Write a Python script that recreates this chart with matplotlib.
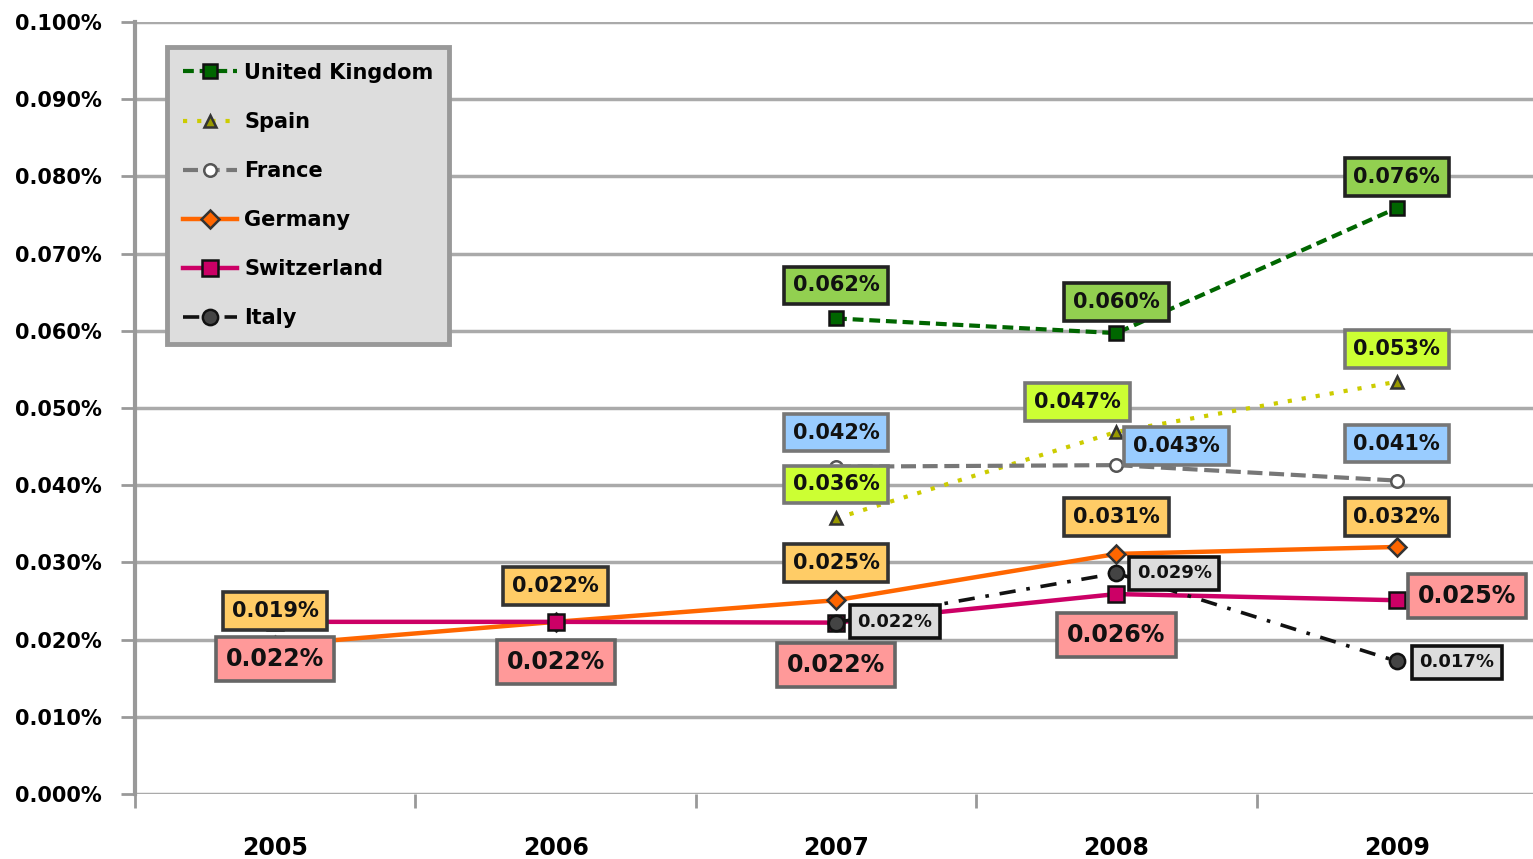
import matplotlib
matplotlib.use("Agg")
import matplotlib.pyplot as plt
import numpy as np

plt.rcParams['font.family'] = ['DejaVu Sans']

# data (percent values)
years = ['2005', '2006', '2007', '2008', '2009']
uk = [None, None, 0.0616, 0.0597, 0.0759]
spain = [None, None, 0.0357, 0.0469, 0.0534]
france = [None, None, 0.0424, 0.0426, 0.0406]
germany = [0.0193, 0.0223, 0.0251, 0.0311, 0.0320]
switzerland = [0.0223, 0.0223, 0.0222, 0.0259, 0.0251]
italy = [None, None, 0.0222, 0.0286, 0.0172]
yticks = [0.0, 0.01, 0.02, 0.03, 0.04, 0.05, 0.06, 0.07, 0.08, 0.09, 0.10]

# series styling: name, values, line colour, line style, marker, label box
series = [
    dict(name='United Kingdom', vals=uk, color='#006600', ls=(0, (2.6, 1.4)), lw=3.0,
         marker='s', mfc='#006600', mec='#111111', ms=10,
         box='#92D050', bedge='#222222', fs=15, fw='bold',
         offs=[None, None, (0, 33), (0, 31), (0, 31)]),
    dict(name='Spain', vals=spain, color='#CCCC00', ls=(0, (1.0, 2.4)), lw=3.0,
         marker='^', mfc='#999900', mec='#333333', ms=9,
         box='#CCFF33', bedge='#777777', fs=15, fw='bold',
         offs=[None, None, (0, 34), (-39, 30), (0, 33)]),
    dict(name='France', vals=france, color='#777777', ls=(0, (3.6, 1.6)), lw=3.0,
         marker='o', mfc='white', mec='#555555', ms=9,
         box='#99CCFF', bedge='#777777', fs=15, fw='bold',
         offs=[None, None, (0, 34), (60, 19), (0, 37)]),
    dict(name='Germany', vals=germany, color='#FF6600', ls='-', lw=3.2,
         marker='D', mfc='#FF6600', mec='#333333', ms=9,
         box='#FFCC66', bedge='#333333', fs=15, fw='bold',
         offs=[(0, 34), (0, 36), (0, 37), (0, 37), (0, 30)]),
    dict(name='Switzerland', vals=switzerland, color='#CC0066', ls='-', lw=3.2,
         marker='s', mfc='#CC0066', mec='#111111', ms=11,
         box='#FF9999', bedge='#666666', fs=17, fw='semibold',
         offs=[(0, -37), (0, -40), (0, -42), (0, -41), (70, 4)]),
    dict(name='Italy', vals=italy, color='#111111', ls=(0, (4.5, 3.0, 1.0, 3.0)), lw=2.6,
         marker='o', mfc='#444444', mec='#111111', ms=11,
         box='#DDDDDD', bedge='#111111', fs=13, fw='bold',
         offs=[None, None, (59, 1), (58, 0), (60, -1)]),
]

fig = plt.figure(figsize=(15.33, 8.59), dpi=100)
ax = fig.add_axes([135 / 1533, 65 / 859, 1402 / 1533, 772 / 859])

x = np.arange(len(years))
for s in series:
    v = np.array([np.nan if a is None else a for a in s['vals']])
    ax.plot(x, v, color=s['color'], ls=s['ls'], lw=s['lw'], marker=s['marker'],
            mfc=s['mfc'], mec=s['mec'], ms=s['ms'], mew=1.8, label=s['name'], zorder=3)

# data labels
for s in series:
    for i, val in enumerate(s['vals']):
        if val is None:
            continue
        ax.annotate(f"{val:.3f}%", (x[i], val), xytext=s['offs'][i], textcoords='offset pixels',
                    ha='center', va='center', fontsize=s['fs'], fontweight=s['fw'], color='#111111',
                    bbox=dict(boxstyle='square,pad=0.42', fc=s['box'], ec=s['bedge'], lw=2.6),
                    zorder=5)

ax.set_xlim(-0.5, 4.5)
ax.set_ylim(0, 0.1)
ax.set_yticks(yticks)
ax.set_yticklabels([f"{t:.3f}%" for t in yticks], fontsize=15, fontweight='bold')
ax.set_xticks(x)
ax.set_xticklabels(years, fontsize=17, fontweight='bold')
ax.set_xticks(np.arange(-0.5, 5.0, 1.0), minor=True)
ax.tick_params(axis='x', which='major', length=0, pad=30)
ax.tick_params(axis='x', which='minor', length=10, width=2, color='#999999', direction='out')
ax.tick_params(axis='y', length=10, width=2, color='#999999', pad=14)

ax.grid(axis='y', color='#AAAAAA', lw=2.5, zorder=0)
ax.set_axisbelow(True)
for side in ['top', 'right', 'bottom']:
    ax.spines[side].set_visible(False)
ax.spines['left'].set_color('#999999')
ax.spines['left'].set_linewidth(3)

leg = ax.legend(loc='upper left', bbox_to_anchor=(0.0228, 0.9676), borderaxespad=0,
                prop=dict(size=15, weight='bold'), handlelength=2.6, handletextpad=0.35,
                labelspacing=1.4, borderpad=0.75, fancybox=False, framealpha=1)
leg.get_frame().set_facecolor('#DDDDDD')
leg.get_frame().set_edgecolor('#999999')
leg.get_frame().set_linewidth(3.5)
leg.set_zorder(6)

fig.savefig('out.png', dpi=100)
